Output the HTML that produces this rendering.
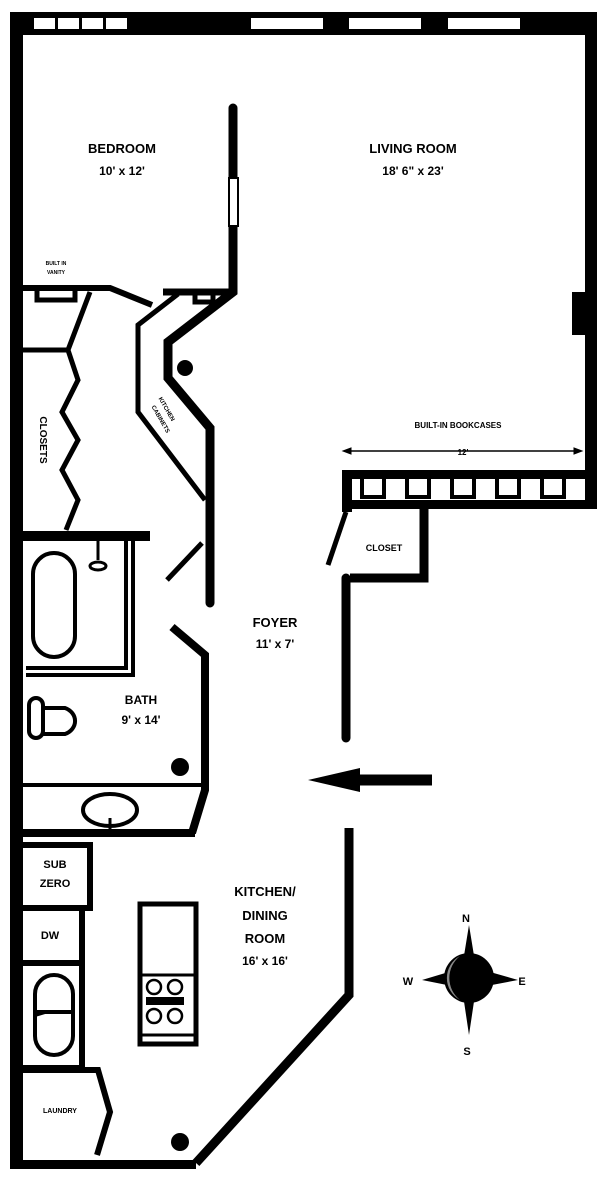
<!DOCTYPE html>
<html><head><style>
html,body{margin:0;padding:0;background:#fff;}
svg{display:block;}
text{font-family:"Liberation Sans",sans-serif;font-weight:bold;fill:#000;}
</style></head><body>
<svg width="600" height="1180" viewBox="0 0 600 1180" xmlns="http://www.w3.org/2000/svg">
<g fill="none" stroke="#000" stroke-linejoin="miter">
<!-- outer walls -->
<rect x="10" y="12" width="587" height="23" fill="#000" stroke="none"/>
<rect x="10" y="12" width="13" height="1157" fill="#000" stroke="none"/>
<rect x="585" y="12" width="12" height="488" fill="#000" stroke="none"/>
<rect x="10" y="1160" width="186" height="9" fill="#000" stroke="none"/>
<!-- windows -->
<g fill="#fff" stroke="none">
<rect x="34" y="18" width="21" height="11"/><rect x="58" y="18" width="21" height="11"/><rect x="82" y="18" width="21" height="11"/><rect x="106" y="18" width="21" height="11"/>
<rect x="251" y="18" width="72" height="11"/><rect x="349" y="18" width="72" height="11"/><rect x="448" y="18" width="72" height="11"/>
</g>
<!-- right wall block -->
<rect x="572" y="292" width="14" height="43" fill="#000" stroke="none"/>
<!-- bookcase wall -->
<rect x="342" y="470" width="255" height="9" fill="#000" stroke="none"/>
<rect x="342" y="470" width="10" height="42" fill="#000" stroke="none"/>
<rect x="342" y="500" width="255" height="9" fill="#000" stroke="none"/>
<g stroke-width="4"><path d="M362 479v18h22v-18M407 479v18h22v-18M452 479v18h22v-18M497 479v18h22v-18M542 479v18h22v-18"/></g>
<path d="M345 451H580" stroke-width="1.5"/>
<path d="M343 451l8-3v6zM582 451l-8-3v6z" fill="#000"/>
<!-- closet -->
<path d="M424 505V578H350" stroke-width="9"/>
<path d="M346 512L328 565" stroke-width="5"/>
<!-- foyer right wall -->
<path d="M346 578V738" stroke-width="9" stroke-linecap="round"/>
<path d="M349 828V995L196 1163" stroke-width="9"/>
<!-- partition bedroom/living -->
<path d="M233 108V292L168 342V378L210 428V603" stroke-width="9" stroke-linecap="round"/>
<rect x="229" y="178" width="9" height="48" fill="#fff" stroke-width="2"/>
<path d="M233 292H163" stroke-width="7"/>
<path d="M195 292v10h18v-10" stroke-width="5"/>
<path d="M178 294L138 325V412L205 500" stroke-width="5"/>
<!-- bedroom bottom wall & vanity -->
<path d="M22 288H110L152 305" stroke-width="6"/>
<path d="M37 288v12h38v-12" stroke-width="5"/>
<!-- closets -->
<path d="M22 350H68" stroke-width="5"/>
<path d="M90 292L68 350L78 380L62 412L78 440L62 470L78 500L66 530" stroke-width="5"/>
<!-- bath -->
<path d="M22 536H150" stroke-width="10"/>
<path d="M26 668H126V540" stroke-width="4"/>
<path d="M26 675H133V540" stroke-width="4"/>
<rect x="33" y="553" width="42" height="104" rx="21" stroke-width="4"/>
<path d="M98 540V560" stroke-width="3"/><ellipse cx="98" cy="566" rx="8" ry="4" stroke-width="3"/>
<path d="M167 580L202 543" stroke-width="5"/>
<path d="M172 627L205 655V790L192 833" stroke-width="8"/>
<rect x="29" y="698" width="14" height="40" rx="7" stroke-width="4"/>
<path d="M43 708H65A16 14 0 0 1 65 734H43" stroke-width="4"/>
<path d="M22 785H207" stroke-width="4"/>
<path d="M22 833H195" stroke-width="8"/>
<ellipse cx="110" cy="810" rx="27" ry="16" stroke-width="4"/>
<path d="M110 818V830" stroke-width="3"/>
<!-- kitchen cabinets -->
<path d="M22 845H90V908H22" stroke-width="6"/>
<path d="M82 908V1068H22M22 963H82" stroke-width="6"/>
<rect x="35" y="975" width="38" height="80" rx="19" stroke-width="4"/>
<path d="M35 1012H73M35 1015L45 1012" stroke-width="4"/>
<path d="M22 1070H98L110 1112L97 1155" stroke-width="6"/>
<!-- range -->
<rect x="140" y="904" width="56" height="140" stroke-width="5"/>
<path d="M140 975H196M140 1035H196" stroke-width="3"/>
<g stroke-width="2.5">
<circle cx="154" cy="987" r="7"/><circle cx="175" cy="987" r="7"/><circle cx="154" cy="1016" r="7"/><circle cx="175" cy="1016" r="7"/>
</g>
<rect x="146" y="997" width="38" height="8" fill="#000" stroke="none"/>
<!-- columns -->
<circle cx="185" cy="368" r="8" fill="#000" stroke="none"/>
<circle cx="180" cy="767" r="9" fill="#000" stroke="none"/>
<circle cx="180" cy="1142" r="9" fill="#000" stroke="none"/>
<!-- entrance arrow -->
<path d="M432 780H350" stroke-width="11"/>
<path d="M308 780L360 768V792Z" fill="#000" stroke="none"/>
<!-- compass -->
<path d="M469 925L476 968L518 980L476 988L469 1035L462 988L422 980L462 968Z" fill="#000" stroke="none"/>
<circle cx="469" cy="978" r="25" fill="#000" stroke="none"/>
<path d="M460 956A25 25 0 0 0 460 1000A28 28 0 0 1 460 956Z" fill="#888" stroke="none"/>
</g>
<g text-anchor="middle">
<text x="122" y="153" font-size="13">BEDROOM</text>
<text x="122" y="175" font-size="12">10' x 12'</text>
<text x="413" y="153" font-size="13">LIVING ROOM</text>
<text x="413" y="175" font-size="12">18' 6" x 23'</text>
<text x="458" y="428" font-size="8">BUILT-IN BOOKCASES</text>
<text x="463" y="455" font-size="8">12'</text>
<text x="384" y="551" font-size="9">CLOSET</text>
<text x="275" y="627" font-size="13">FOYER</text>
<text x="275" y="648" font-size="12">11' x 7'</text>
<text x="141" y="704" font-size="12">BATH</text>
<text x="141" y="724" font-size="12">9' x 14'</text>
<text x="55" y="868" font-size="11">SUB</text>
<text x="55" y="887" font-size="11">ZERO</text>
<text x="50" y="939" font-size="11">DW</text>
<text x="265" y="896" font-size="13">KITCHEN/</text>
<text x="265" y="920" font-size="13">DINING</text>
<text x="265" y="943" font-size="13">ROOM</text>
<text x="265" y="965" font-size="12">16' x 16'</text>
<text x="60" y="1113" font-size="7">LAUNDRY</text>
<text x="56" y="265" font-size="5">BUILT IN</text>
<text x="56" y="274" font-size="5">VANITY</text>
<text x="466" y="922" font-size="11" font-family="Liberation Serif">N</text>
<text x="408" y="985" font-size="11" font-family="Liberation Serif">W</text>
<text x="522" y="985" font-size="11" font-family="Liberation Serif">E</text>
<text x="467" y="1055" font-size="11" font-family="Liberation Serif">S</text>
</g>
<text x="0" y="0" font-size="10" text-anchor="middle" transform="translate(40 440) rotate(90)">CLOSETS</text>
<text x="0" y="0" font-size="6" text-anchor="middle" transform="translate(165 410) rotate(60)">KITCHEN</text>
<text x="0" y="0" font-size="6" text-anchor="middle" transform="translate(159 420) rotate(60)">CABINETS</text>
</svg>
</body></html>
